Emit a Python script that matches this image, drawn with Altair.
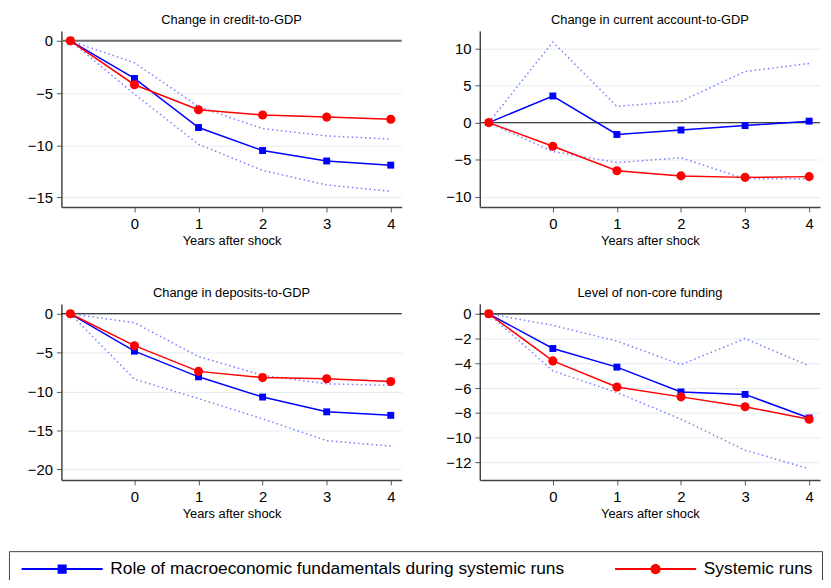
import altair as alt
import pandas as pd

years = [-1, 0, 1, 2, 3, 4]
year_ticks = [0, 1, 2, 3, 4]

blue_name = "Role of macroeconomic fundamentals during systemic runs"
red_name = "Systemic runs"

titles = [
    "Change in credit-to-GDP",
    "Change in current account-to-GDP",
    "Change in deposits-to-GDP",
    "Level of non-core funding",
]

credit_fund = [0, -3.6, -8.3, -10.5, -11.5, -11.9]
credit_runs = [0, -4.2, -6.6, -7.1, -7.3, -7.5]
credit_hi = [0, -2.1, -6.3, -8.4, -9.1, -9.4]
credit_lo = [0, -5.1, -9.9, -12.4, -13.8, -14.4]

ca_fund = [0, 3.6, -1.6, -1.0, -0.4, 0.2]
ca_runs = [0, -3.2, -6.5, -7.2, -7.4, -7.3]
ca_hi = [0, 10.9, 2.2, 2.9, 6.9, 8.0]
ca_lo = [0, -3.9, -5.4, -4.75, -7.6, -7.6]

dep_fund = [0, -4.8, -8.1, -10.7, -12.6, -13.05]
dep_runs = [0, -4.1, -7.4, -8.2, -8.35, -8.7]
dep_hi = [0, -1.15, -5.5, -7.9, -9.0, -9.2]
dep_lo = [0, -8.4, -10.9, -13.5, -16.3, -17.0]

nc_fund = [0, -2.8, -4.3, -6.3, -6.5, -8.4]
nc_runs = [0, -3.8, -5.9, -6.7, -7.5, -8.5]
nc_hi = [0, -0.93, -2.2, -4.1, -2.0, -4.2]
nc_lo = [0, -4.6, -6.35, -8.5, -11.0, -12.5]

credit_ticks = [0, -5, -10, -15]
ca_ticks = [10, 5, 0, -5, -10]
dep_ticks = [0, -5, -10, -15, -20]
nc_ticks = [0, -2, -4, -6, -8, -10, -12]

FONT = "Liberation Sans"
BLUE = "#0000ff"
RED = "#ff0000"
CI = "#7b7bff"

W, H = 344, 178


def panel(title, fund, runs, hi, lo, ydom, yticks, zero_color, zero_width, with_legend=False):
    df = pd.DataFrame({"year": years, "fund": fund, "runs": runs, "hi": hi, "lo": lo})
    base = alt.Chart(df)
    x = alt.X(
        "year:Q",
        scale=alt.Scale(domain=[-1.14, 4.17], nice=False, zero=False),
        axis=alt.Axis(values=year_ticks, title="Years after shock", grid=False, format="d"),
    )
    yscale = alt.Scale(domain=ydom, nice=False, zero=False)
    yaxis = alt.Axis(values=yticks, title=None, grid=True, format="d")

    def y(field):
        return alt.Y(f"{field}:Q", scale=yscale, axis=yaxis, title=None)

    zero = alt.Chart(pd.DataFrame({"z": [0]})).mark_rule(
        color=zero_color, strokeWidth=zero_width
    ).encode(y=alt.Y("z:Q", scale=yscale, axis=yaxis, title=None))
    hi_line = base.mark_line(color=CI, strokeDash=[1.5, 3], strokeWidth=1.5).encode(x=x, y=y("hi"))
    lo_line = base.mark_line(color=CI, strokeDash=[1.5, 3], strokeWidth=1.5).encode(x=x, y=y("lo"))
    f_line = base.mark_line(color=BLUE, strokeWidth=1.5).encode(x=x, y=y("fund"))
    f_pts = base.mark_point(shape="square", filled=True, size=49, color=BLUE, opacity=1).encode(x=x, y=y("fund"))
    r_line = base.mark_line(color=RED, strokeWidth=1.5).encode(x=x, y=y("runs"))
    r_pts = base.mark_point(shape="circle", filled=True, size=85, color=RED, opacity=1).encode(x=x, y=y("runs"))
    layers = [zero, hi_line, lo_line, f_line, f_pts, r_line, r_pts]
    if with_legend:
        r = 5.0  # unit of the custom symbol paths, in px (sqrt(symbolSize)/2)
        half = 41.0 / r
        sq = 4.6 / r
        cr = 5.2 / r
        lw = 1.0 / r
        blue_path = f"M-{half},-{lw}H{half}V{lw}H-{half}Z M-{sq},-{sq}H{sq}V{sq}H-{sq}Z"
        red_path = (
            f"M-{half},-{lw}H{half}V{lw}H-{half}Z "
            f"M-{cr},0A{cr},{cr},0,1,1,{cr},0A{cr},{cr},0,1,1,-{cr},0Z"
        )
        leg = alt.Legend(
            title=None,
            orient="none",
            legendX=-53,
            legendY=526,
            direction="horizontal",
            symbolSize=(2 * r) ** 2,
            symbolStrokeWidth=0,
            symbolOffset=36,
            labelFont=FONT,
            labelFontSize=17.5,
            labelColor="black",
            labelOffset=40,
            labelLimit=1000,
            columnPadding=47,
            padding=9,
            strokeColor="#444444",
        )
        leg_df = pd.DataFrame({"series": [blue_name, red_name]})
        legend_layer = (
            alt.Chart(leg_df)
            .transform_filter("false")
            .mark_point(filled=True, opacity=1)
            .encode(
                color=alt.Color(
                    "series:N",
                    scale=alt.Scale(domain=[blue_name, red_name], range=[BLUE, RED]),
                    legend=leg,
                ),
                shape=alt.Shape(
                    "series:N",
                    scale=alt.Scale(domain=[blue_name, red_name], range=[blue_path, red_path]),
                    legend=leg,
                ),
            )
        )
        layers.append(legend_layer)
    return alt.layer(*layers).properties(
        width=W,
        height=H,
        title=alt.TitleParams(title, fontSize=13, font=FONT, fontWeight="normal", color="black", offset=4),
    )


p1 = panel(titles[0], credit_fund, credit_runs, credit_hi, credit_lo, [-15.9, 0.95], credit_ticks, "#6e6e6e", 2, True)
p2 = panel(titles[1], ca_fund, ca_runs, ca_hi, ca_lo, [-11.4, 12.4], ca_ticks, "#444444", 1.2)
p3 = panel(titles[2], dep_fund, dep_runs, dep_hi, dep_lo, [-21.35, 1.27], dep_ticks, "#000000", 1.2)
p4 = panel(titles[3], nc_fund, nc_runs, nc_hi, nc_lo, [-13.4, 0.8], nc_ticks, "#000000", 1.2)

chart = (
    alt.concat(p1, p2, p3, p4, columns=2, spacing={"row": 40, "column": 43})
    .resolve_scale(color="shared", shape="shared")
    .resolve_legend(color="shared", shape="shared")
    .properties(padding={"left": 0, "top": 3, "right": 0, "bottom": -11})
    .configure_view(stroke=None)
    .configure_axis(
        labelFont=FONT,
        labelFontSize=15,
        labelColor="black",
        titleFont=FONT,
        titleFontSize=13,
        titleFontWeight="normal",
        titleColor="black",
        domainColor="#444444",
        domainWidth=1.5,
        tickColor="#555555",
        tickSize=5,
        tickWidth=1,
        gridColor="#e3edf0",
        gridWidth=1,
    )
    .configure_axisY(labelPadding=4)
    .configure_axisX(labelPadding=5, titlePadding=3)
)

chart.save("out.html", embed_options={"renderer": "svg", "actions": False})
